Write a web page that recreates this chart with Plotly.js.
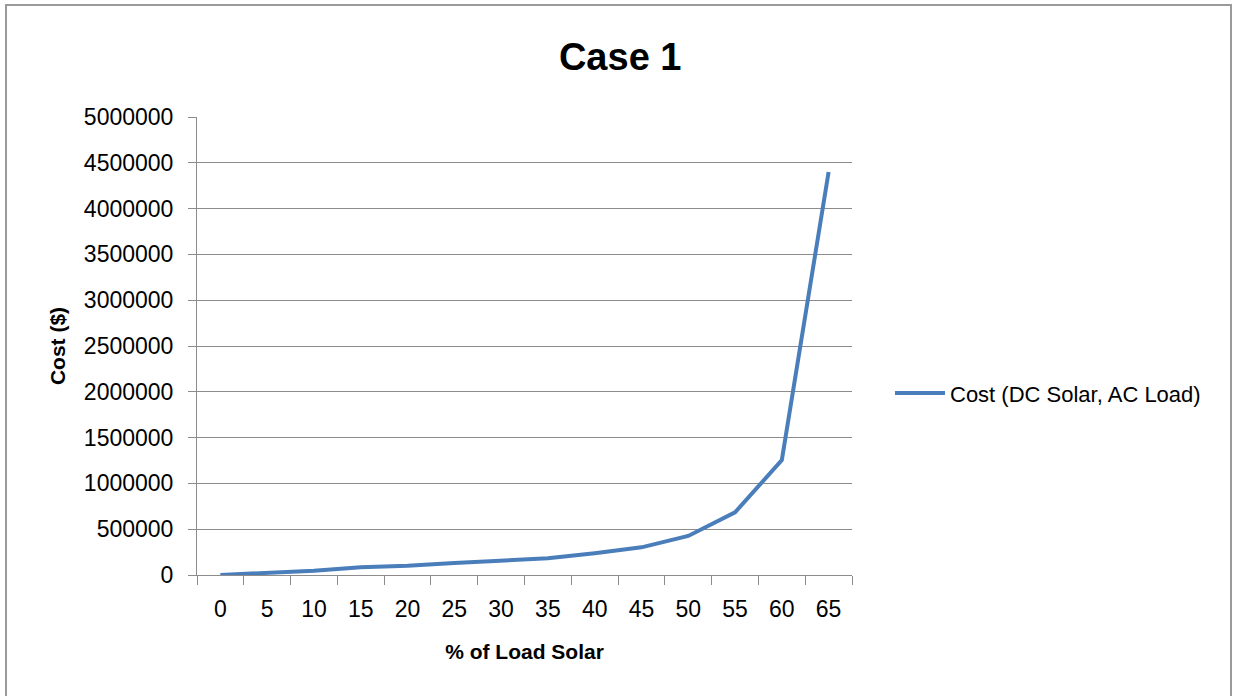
<!DOCTYPE html>
<html>
<head>
<meta charset="utf-8">
<script src="https://cdn.plot.ly/plotly-3.0.1.min.js"></script>
<style>
  html, body { margin: 0; padding: 0; background: #ffffff; }
  #chart { width: 1233px; height: 696px; }
</style>
</head>
<body>
<div id="chart"></div>
<script>
const categories = ["0", "5", "10", "15", "20", "25", "30", "35", "40", "45", "50", "55", "60", "65"];
const costValues = [0, 22000, 47000, 84000, 101000, 131000, 156000, 182000, 237000, 302000, 426000, 684000, 1255000, 4400000];
const seriesName = "Cost (DC Solar, AC Load)";
const chartTitle = "Case 1";
const xTitle = "% of Load Solar";
const yTitle = "Cost ($)";

const FONT = "'Liberation Sans', Arial, sans-serif";
const GRID = "#8c8c8c";

const trace = {
  type: "scatter",
  mode: "lines",
  x: categories,
  y: costValues,
  name: seriesName,
  line: { color: "#4a7ebb", width: 4, shape: "linear" },
  hoverinfo: "x+y"
};

const layout = {
  width: 1233,
  height: 696,
  margin: { l: 197, r: 381, t: 117, b: 121, pad: 0 },
  paper_bgcolor: "#ffffff",
  plot_bgcolor: "#ffffff",
  font: { family: FONT, color: "#000000", size: 23 },
  title: {
    text: chartTitle,
    font: { family: FONT, size: 38, color: "#000000", weight: "bold" },
    x: 0.503,
    xanchor: "center",
    y: 0.918,
    yanchor: "middle"
  },
  showlegend: true,
  legend: {
    x: 1.058,
    xanchor: "left",
    y: 0.397,
    yanchor: "middle",
    font: { family: FONT, size: 22, color: "#000000" },
    bgcolor: "rgba(0,0,0,0)",
    borderwidth: 0,
    itemwidth: 50
  },
  xaxis: {
    type: "category",
    range: [-0.5, 13.5],
    tickson: "boundaries",
    ticks: "outside",
    ticklen: 9,
    tickwidth: 1,
    tickcolor: GRID,
    showline: true,
    linecolor: GRID,
    linewidth: 1,
    showgrid: false,
    zeroline: false,
    tickfont: { family: FONT, size: 23, color: "#000000" },
    ticklabelstandoff: 13,
    title: {
      text: xTitle,
      font: { family: FONT, size: 21, color: "#000000", weight: "bold" },
      standoff: 23
    },
    fixedrange: true
  },
  yaxis: {
    range: [0, 5000000],
    dtick: 500000,
    tick0: 0,
    tickformat: "d",
    ticks: "outside",
    ticklen: 8,
    tickwidth: 1,
    tickcolor: GRID,
    showline: true,
    linecolor: GRID,
    linewidth: 1,
    showgrid: true,
    gridcolor: GRID,
    gridwidth: 1,
    zeroline: false,
    tickfont: { family: FONT, size: 23, color: "#000000" },
    ticklabelstandoff: 10,
    title: {
      text: yTitle,
      font: { family: FONT, size: 21, color: "#000000", weight: "bold" },
      standoff: 12
    },
    fixedrange: true
  },
  shapes: [
    {
      type: "rect",
      xref: "paper", yref: "paper",
      x0: (6 - 197) / 655, x1: (1231 - 197) / 655,
      y0: (575 - 720) / 458, y1: (575 - 5) / 458,
      line: { color: "#9a9a9a", width: 2 },
      fillcolor: "rgba(0,0,0,0)",
      layer: "below"
    }
  ]
};

Plotly.newPlot("chart", [trace], layout, { displayModeBar: false, staticPlot: false });
</script>
</body>
</html>
